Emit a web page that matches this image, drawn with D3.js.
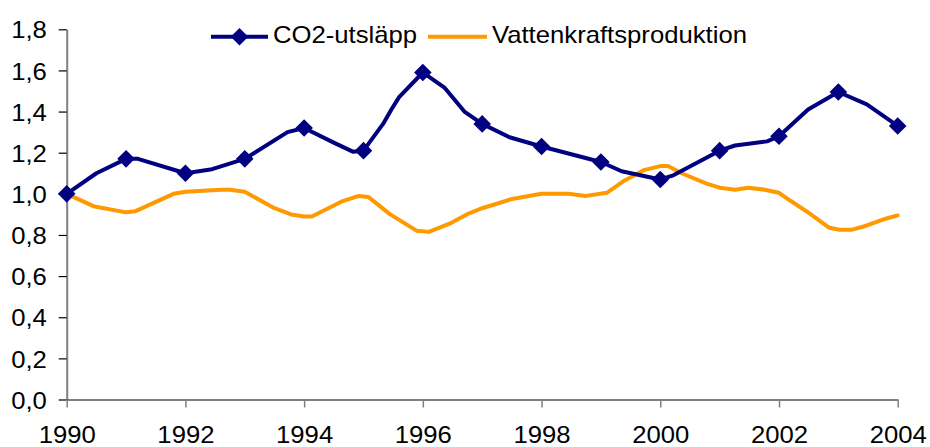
<!DOCTYPE html>
<html>
<head>
<meta charset="utf-8">
<script src="https://cdn.jsdelivr.net/npm/d3@7"></script>
<style>
  html, body { margin: 0; padding: 0; background: #fff; }
  svg { display: block; font-family: "Liberation Sans", Arial, sans-serif; }
</style>
</head>
<body>
<svg id="chart" width="930" height="447"></svg>
<script>
// CO2 emissions index (1990 = 1.0), [year, value]
const co2 = [
  [1990, 1.00], [1990.5, 1.10], [1991, 1.17], [1991.2, 1.17], [1992, 1.10],
  [1992.45, 1.12], [1993, 1.17], [1993.72, 1.30], [1994, 1.32], [1994.49, 1.25],
  [1994.82, 1.205], [1995, 1.21], [1995.33, 1.34], [1995.47, 1.41], [1995.6, 1.47],
  [1996, 1.59], [1996.1, 1.57], [1996.37, 1.515], [1996.7, 1.40], [1997, 1.34],
  [1997.46, 1.275], [1998, 1.23], [1999, 1.155], [1999.35, 1.11], [2000, 1.07],
  [2000.22, 1.09], [2001, 1.21], [2001.26, 1.235], [2001.8, 1.255], [2002, 1.28],
  [2002.49, 1.41], [2003, 1.495], [2003.48, 1.435], [2004, 1.33]
];

// Hydropower production index (1990 = 1.0), [year, value]
const hydro = [
  [1990, 1.00], [1990.45, 0.94], [1991, 0.91], [1991.15, 0.915], [1991.8, 1.00],
  [1992, 1.01], [1992.6, 1.02], [1992.75, 1.02], [1993, 1.01], [1993.5, 0.93],
  [1993.78, 0.90], [1994, 0.89], [1994.13, 0.89], [1994.65, 0.965], [1994.92, 0.99],
  [1995.08, 0.985], [1995.45, 0.90], [1995.9, 0.82], [1996.1, 0.815], [1996.45, 0.855],
  [1996.74, 0.90], [1997, 0.93], [1997.5, 0.975], [1998, 1.00], [1998.45, 1.00],
  [1998.75, 0.99], [1999.1, 1.005], [1999.4, 1.065], [1999.72, 1.115], [2000, 1.135],
  [2000.13, 1.135], [2000.36, 1.10], [2000.78, 1.05], [2001, 1.03], [2001.26, 1.02],
  [2001.48, 1.03], [2001.76, 1.02], [2002, 1.005], [2002.2, 0.965], [2002.49, 0.91],
  [2002.85, 0.835], [2003.02, 0.825], [2003.22, 0.825], [2003.47, 0.845], [2003.75, 0.875],
  [2004, 0.895]
];

const seriesNames = ["CO2-utsläpp", "Vattenkraftsproduktion"];
const seriesColors = ["#000080", "#FF9900"];
const xTicks = [1990, 1992, 1994, 1996, 1998, 2000, 2002, 2004];
const yTicks = [0, 0.2, 0.4, 0.6, 0.8, 1.0, 1.2, 1.4, 1.6, 1.8];

const svg = d3.select("#chart");
// Text is set slightly wider than tall
const FS = 24, SX = 1.07;

const x = d3.scaleLinear().domain([1990, 2004]).range([66.7, 897.7]);
const y = d3.scaleLinear().domain([0, 1.8]).range([399.5, 29.3]);

const fmt = v => d3.format(".1f")(v).replace(".", ",");

// Y axis
const gy = svg.append("g")
  .attr("transform", `translate(${x.range()[0]},0)`)
  .call(d3.axisLeft(y).tickValues(yTicks).tickFormat(fmt).tickSize(8).tickSizeOuter(0));
gy.select(".domain").attr("stroke", "#808080").attr("stroke-width", 2);
gy.selectAll(".tick line").attr("stroke", "#000").attr("stroke-width", 1.2);
gy.selectAll(".tick text")
  .attr("font-size", FS).attr("fill", "#000")
  .attr("font-family", "Liberation Sans, Arial, sans-serif")
  .attr("x", -18.5).attr("dy", "0.36em")
  .attr("transform", `scale(${SX},1)`);

// X axis (labels scaled about their own tick, so they stay centred)
const gx = svg.append("g")
  .attr("transform", `translate(0,${y(0)})`)
  .call(d3.axisBottom(x).tickValues(xTicks).tickFormat(d3.format("d")).tickSize(8).tickSizeOuter(0));
gx.select(".domain").attr("stroke", "#000").attr("stroke-width", 1.2);
gx.selectAll(".tick line").attr("stroke", "#808080").attr("stroke-width", 1.5);
gx.selectAll(".tick text")
  .attr("font-size", FS).attr("fill", "#000")
  .attr("font-family", "Liberation Sans, Arial, sans-serif")
  .attr("x", 0).attr("y", 44).attr("dy", 0)
  .attr("transform", `scale(${SX},1)`);

const line = d3.line()
  .x(d => x(d[0]))
  .y(d => y(d[1]))
  .curve(d3.curveLinear);

// Hydropower line
svg.append("path")
  .datum(hydro)
  .attr("fill", "none")
  .attr("stroke", seriesColors[1])
  .attr("stroke-width", 4)
  .attr("stroke-linejoin", "round")
  .attr("stroke-linecap", "round")
  .attr("d", line);

// CO2 line
svg.append("path")
  .datum(co2)
  .attr("fill", "none")
  .attr("stroke", seriesColors[0])
  .attr("stroke-width", 4)
  .attr("stroke-linejoin", "round")
  .attr("stroke-linecap", "round")
  .attr("d", line);

// Diamond markers on the whole years
const R = 8.8;
const diamond = `M0,${-R}L${R},0L0,${R}L${-R},0Z`;
svg.append("g").selectAll("path")
  .data(co2.filter(d => Number.isInteger(d[0])))
  .join("path")
  .attr("d", diamond)
  .attr("transform", d => `translate(${x(d[0])},${y(d[1])})`)
  .attr("fill", seriesColors[0]);

// Legend
const legendY = 36.7;
const leg = svg.append("g");
leg.append("line").attr("x1", 211).attr("x2", 268).attr("y1", legendY).attr("y2", legendY)
  .attr("stroke", seriesColors[0]).attr("stroke-width", 4);
leg.append("path").attr("d", diamond).attr("transform", `translate(239.5,${legendY})`)
  .attr("fill", seriesColors[0]);
leg.append("text").attr("transform", `translate(273,${legendY + 6.5}) scale(${SX},1)`)
  .attr("font-size", FS).attr("fill", "#000").text(seriesNames[0]);

leg.append("line").attr("x1", 428).attr("x2", 487).attr("y1", legendY).attr("y2", legendY)
  .attr("stroke", seriesColors[1]).attr("stroke-width", 4);
leg.append("text").attr("transform", `translate(492,${legendY + 6.5}) scale(${SX},1)`)
  .attr("font-size", FS).attr("fill", "#000").text(seriesNames[1]);
</script>
</body>
</html>
